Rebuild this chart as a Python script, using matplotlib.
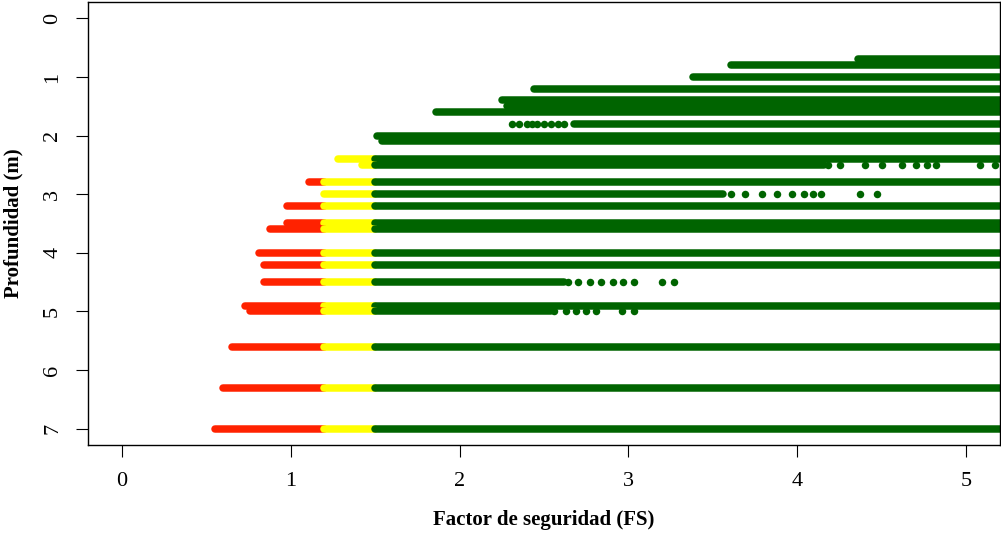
# -*- coding: utf-8 -*-
"""
Perfil de factor de seguridad (FS) frente a la profundidad.
Cada fila es una profundidad; los puntos se colorean por FS:
rojo < 1.2, amarillo 1.2-1.5, verde >= 1.5.
"""

import matplotlib.pyplot as plt

# ==============================
# 1. DATOS
# ==============================
profundidad = [0.7, 0.8, 1.0, 1.2, 1.4, 1.5, 1.6, 1.8, 2.0, 2.1, 2.4, 2.5,
               2.8, 3.0, 3.2, 3.5, 3.6, 4.0, 4.2, 4.5, 4.9, 5.0, 5.6, 6.3, 7.0]

# FS mínimo de cada fila (inicio del tramo continuo)
fs_min = [4.36, 3.61, 3.38, 2.44, 2.25, 2.28, 1.86, 2.68, 1.51, 1.54, 1.28, 1.42,
          1.11, 1.20, 0.98, 0.98, 0.88, 0.81, 0.84, 0.84, 0.73, 0.76, 0.65, 0.60, 0.55]

# FS donde termina el tramo continuo (5.5 = sigue fuera del marco)
fs_fin = [5.5, 5.5, 5.5, 5.5, 5.5, 5.5, 5.5, 5.5, 5.5, 5.5, 5.5, 4.16,
          5.5, 3.56, 5.5, 5.5, 5.5, 5.5, 5.5, 2.62, 5.5, 2.54, 5.5, 5.5, 5.5]

# Puntos sueltos (valores dispersos de FS en algunas filas)
sueltos_18 = [2.31, 2.35, 2.40, 2.43, 2.46, 2.50, 2.54, 2.58, 2.62]
sueltos_25 = [4.18, 4.25, 4.40, 4.50, 4.62, 4.70, 4.77, 4.82, 5.08, 5.17]
sueltos_30 = [3.61, 3.69, 3.79, 3.88, 3.97, 4.04, 4.09, 4.14, 4.37, 4.47]
sueltos_45 = [2.64, 2.70, 2.77, 2.84, 2.91, 2.97, 3.03, 3.20, 3.27]
sueltos_50 = [2.56, 2.63, 2.69, 2.75, 2.81, 2.96, 3.03]

sueltos = [(1.8, sueltos_18), (2.5, sueltos_25), (3.0, sueltos_30),
           (4.5, sueltos_45), (5.0, sueltos_50)]

# Umbrales y colores
FS_CRITICO = 1.2
FS_ADMISIBLE = 1.5
ROJO = "#FF2200"
AMARILLO = "#FFFF00"
VERDE = "#006400"


def color_fs(fs):
    if fs < FS_CRITICO:
        return ROJO
    if fs < FS_ADMISIBLE:
        return AMARILLO
    return VERDE


# ==============================
# 2. GRÁFICO
# ==============================
plt.rcParams["font.family"] = ["Liberation Serif", "DejaVu Serif"]

fig = plt.figure(figsize=(10.01, 5.33), dpi=100)
ax = fig.add_axes([88 / 1001, 1 - 445 / 533, 912 / 1001, 443 / 533])

GROSOR = 5.4  # diámetro de los puntos en pt

for d, a, b in zip(profundidad, fs_min, fs_fin):
    tramos = [
        (a, min(b, FS_CRITICO), ROJO),
        (max(a, FS_CRITICO), min(b, FS_ADMISIBLE), AMARILLO),
        (max(a, FS_ADMISIBLE), b, VERDE),
    ]
    for x0, x1, c in tramos:
        if x1 > x0:
            ax.plot([x0, x1], [d, d], color=c, lw=GROSOR,
                    solid_capstyle="round")

for d, valores in sueltos:
    ax.plot(valores, [d] * len(valores), "o", ms=GROSOR, mew=0,
            color=color_fs(min(valores)))

ax.set_xlim(-0.2, 5.2)
ax.set_ylim(7.28, -0.28)
ax.set_xticks(range(6))
ax.set_yticks(range(8))

ax.tick_params(direction="out", length=8.6, width=0.8, labelsize=16)
ax.tick_params(axis="x", pad=11)
ax.tick_params(axis="y", pad=10)
for lab in ax.get_yticklabels():
    lab.set_rotation(90)
    lab.set_va("center")

for s in ax.spines.values():
    s.set_linewidth(1.0)

ax.set_xlabel("Factor de seguridad (FS)", fontsize=15, fontweight="bold")
ax.set_ylabel("Profundidad (m)", fontsize=15, fontweight="bold")
ax.xaxis.label.set_va("center")
ax.yaxis.label.set_va("center")
ax.xaxis.set_label_coords(0.5, -0.169)
ax.yaxis.set_label_coords(-0.0816, 0.5)

fig.savefig("out.png", dpi=100)
